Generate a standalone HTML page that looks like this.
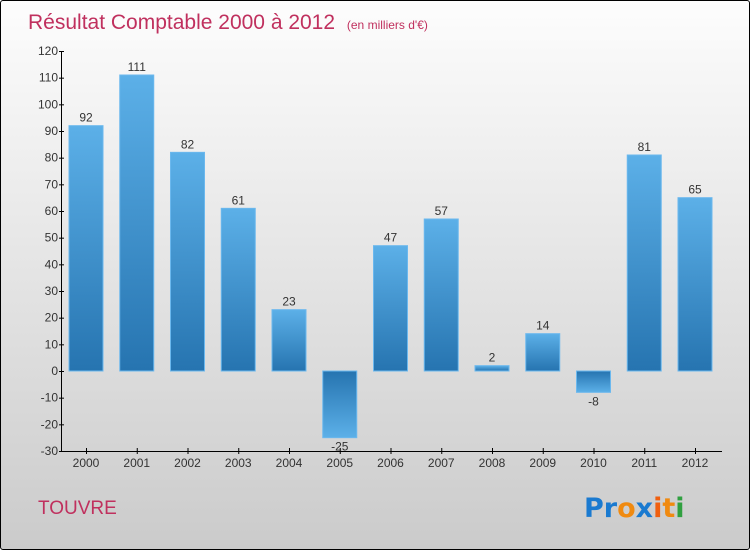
<!DOCTYPE html>
<html><head><meta charset="utf-8"><style>
html,body{margin:0;padding:0;}
body{width:750px;height:550px;overflow:hidden;font-family:"Liberation Sans",sans-serif;}
#frame{position:absolute;left:0;top:0;width:748px;height:548px;border:1px solid #000;border-radius:3px;background:linear-gradient(#fdfdfd,#cbcbcb);}
</style></head><body>
<div id="frame">
<svg id="chart" width="750" height="550">
<defs>
<linearGradient id="gpos" x1="0" y1="0" x2="0" y2="1"><stop offset="0" stop-color="#5cb0e8"/><stop offset="1" stop-color="#2674b0"/></linearGradient>
<linearGradient id="gneg" x1="0" y1="0" x2="0" y2="1"><stop offset="0" stop-color="#2674b0"/><stop offset="1" stop-color="#5cb0e8"/></linearGradient>
</defs>
<text x="27" y="28" font-size="21" fill="#c0305e">Résultat Comptable 2000 à 2012 <tspan font-size="12" dx="6">(en milliers d'€)</tspan></text>
<text x="37" y="513" font-size="19" fill="#c0305e">TOUVRE</text>
<text x="583" y="516" font-size="27" font-weight="bold" font-family="'DejaVu Sans',sans-serif"><tspan fill="#1a7ad0">Pr</tspan><tspan fill="#f08a10">o</tspan><tspan fill="#1a7ad0">x</tspan><tspan fill="#f06010">i</tspan><tspan fill="#f08a10">t</tspan><tspan fill="#30a040">i</tspan></text>
<g id="plot"></g>
</svg>
</div>
<script>
const categories=["2000","2001","2002","2003","2004","2005","2006","2007","2008","2009","2010","2011","2012"];
const values=[92,111,82,61,23,-25,47,57,2,14,-8,81,65];
const yTicks=[-30,-20,-10,0,10,20,30,40,50,60,70,80,90,100,110,120];
const NS="http://www.w3.org/2000/svg";
const plotG=document.getElementById('plot');
const yMin=-30,yMax=120,pTop=50,pBot=450;
function yS(v){return pBot-(v-yMin)/(yMax-yMin)*(pBot-pTop);}
const x0=85,step=50.75;
function xS(i){return x0+i*step;}
function mk(t,a){const e=document.createElementNS(NS,t);for(const k in a)e.setAttribute(k,a[k]);plotG.appendChild(e);return e;}
const ax=mk('line',{x1:60.5,y1:pTop,x2:60.5,y2:pBot,stroke:'#000','stroke-width':1});


const bx=mk('line',{x1:60,y1:pBot+0.5,x2:721,y2:pBot+0.5,stroke:'#000','stroke-width':1});


yTicks.forEach(function(v){
 mk('line',{x1:58,x2:63,y1:yS(v)+0.5,y2:yS(v)+0.5,stroke:'#000'});
 const t=mk('text',{x:57,y:yS(v)+4,'font-size':12,fill:'#333','text-anchor':'end'});t.textContent=v;
 
 
});
categories.forEach(function(c,i){
 const cx=xS(i),v=values[i];
 mk('line',{x1:cx+0.5,x2:cx+0.5,y1:pBot-3,y2:pBot+3,stroke:'#000'});
 const t=mk('text',{x:cx,y:pBot+16,'font-size':12,fill:'#333','text-anchor':'middle'});t.textContent=c;
 
 
 const yt=Math.min(yS(v),yS(0)),h=Math.abs(yS(v)-yS(0));
 const r=mk('rect',{x:cx-17,y:yt,width:34,height:Math.max(h,1),fill:v>=0?'url(#gpos)':'url(#gneg)',stroke:'#6bb8ee','stroke-width':1});
 
 
 const lt=mk('text',{x:cx,y:v>=0?yS(v)-4:yS(v)+13,'font-size':12,fill:'#333','text-anchor':'middle'});lt.textContent=v;
 
 
});
</script>
</body></html>
